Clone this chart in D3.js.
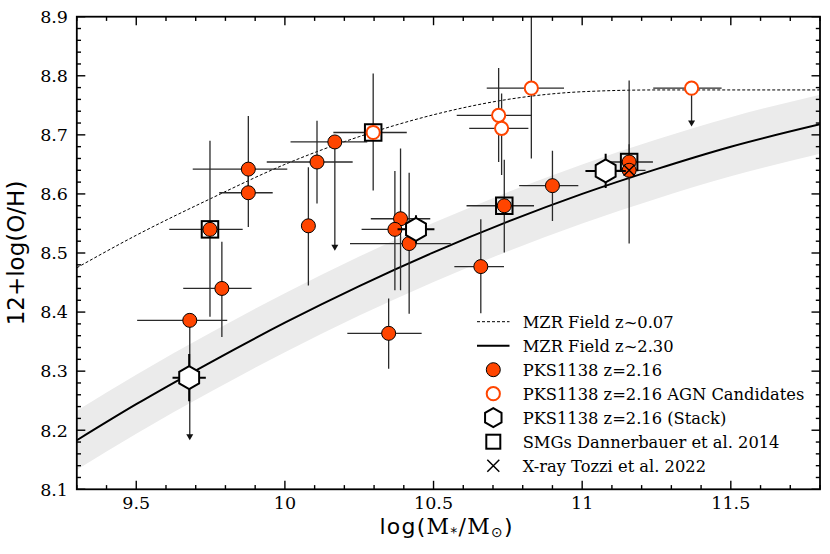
<!DOCTYPE html>
<html><head><meta charset="utf-8">
<script src="https://cdn.jsdelivr.net/npm/d3@7"></script>
<style>body{margin:0;background:#fff}svg{display:block}</style>
</head><body>
<svg id="chart" width="830" height="554"></svg>
<script>
// ---- data ----
const curveX    = [9.3, 9.5, 9.75, 10.0, 10.25, 10.5, 10.75, 11.0, 11.25, 11.5, 11.8];
const mzrLowZ   = [8.475, 8.530, 8.592, 8.650, 8.697, 8.734, 8.760, 8.773, 8.776, 8.776, 8.776];
const mzrHighZ  = [8.183, 8.244, 8.315, 8.382, 8.444, 8.501, 8.553, 8.600, 8.642, 8.680, 8.718];
const bandUpper = [8.233, 8.294, 8.365, 8.432, 8.494, 8.551, 8.603, 8.650, 8.692, 8.730, 8.768];
const bandLower = [8.133, 8.194, 8.265, 8.332, 8.394, 8.451, 8.503, 8.550, 8.592, 8.630, 8.668];

const pksX   = [9.680, 9.877, 9.877, 9.748, 9.788, 10.079, 10.108, 10.168, 10.389, 10.370, 10.418, 10.738, 10.659, 10.349, 10.900, 11.158, 11.158];
const pksY   = [8.386, 8.642, 8.602, 8.540, 8.440, 8.546, 8.654, 8.688, 8.558, 8.540, 8.516, 8.580, 8.477, 8.364, 8.614, 8.654, 8.640];
const pksXLo = [0.177, 0.187, 0.098, 0.137, 0.130, 0, 0.169, 0.149, 0.100, 0.112, 0.199, 0.127, 0.089, 0.139, 0.112, 0.080, 0.055];
const pksXHi = [0.126, 0.131, 0.082, 0.110, 0.100, 0, 0.120, 0.109, 0.100, 0.112, 0.140, 0.100, 0.078, 0.111, 0.087, 0.080, 0.055];
const pksYLo = [0.203, 0.040, 0.058, 0.148, 0.082, 0.101, 0.070, 0.184, 0.121, 0.103, 0.119, 0.079, 0.079, 0.060, 0.060, 0.030, 0.124];
const pksYHi = [0, 0.090, 0.040, 0.150, 0.079, 0.099, 0.070, 0, 0.119, 0.099, 0.120, 0.078, 0.080, 0.059, 0.059, 0.030, 0.152];
const pksLim = [1, 0, 0, 0, 0, 0, 0, 1, 0, 0, 0, 0, 0, 0, 0, 0, 0];

const agnX   = [10.297, 10.829, 10.719, 10.729, 11.368];
const agnY   = [8.704, 8.779, 8.733, 8.711, 8.779];
const agnXLo = [0.134, 0.150, 0.141, 0.109, 0.129];
const agnXHi = [0.113, 0.110, 0.111, 0.090, 0.101];
const agnYLo = [0.098, 0.119, 0.079, 0.079, 0.065];
const agnYHi = [0.100, 0.170, 0.080, 0.059, 0];
const agnLim = [0, 0, 0, 0, 1];

const stackX    = [9.678, 10.441, 11.079];
const stackY    = [8.289, 8.540, 8.639];
const stackXErr = [0.056, 0.062, 0.068];
const stackYErr = [0.040, 0.024, 0.029];

const smgX = [9.748, 10.297, 10.738, 11.158];
const smgY = [8.540, 8.704, 8.580, 8.654];

const xrayX = [11.158];
const xrayY = [8.640];

const xMajorTicks = [9.5, 10, 10.5, 11, 11.5];
const xTickLabels = ["9.5", "10", "10.5", "11", "11.5"];
const yMajorTicks = [8.1, 8.2, 8.3, 8.4, 8.5, 8.6, 8.7, 8.8, 8.9];
const yTickLabels = ["8.1", "8.2", "8.3", "8.4", "8.5", "8.6", "8.7", "8.8", "8.9"];

const legendLabels = ["MZR Field z~0.07", "MZR Field z~2.30", "PKS1138 z=2.16",
  "PKS1138 z=2.16 AGN Candidates", "PKS1138 z=2.16 (Stack)",
  "SMGs Dannerbauer et al. 2014", "X-ray Tozzi et al. 2022"];

// ---- layout ----
const L = 76.8, R = 820, T = 16.7, B = 489.3;
const ORANGE = "#ff4500";
const svg = d3.select("#chart");
const x = d3.scaleLinear().domain([9.3, 11.8]).range([L, R]);
const y = d3.scaleLinear().domain([8.1, 8.9]).range([B, T]);

svg.append("defs").append("clipPath").attr("id", "clip")
  .append("rect").attr("x", L).attr("y", T).attr("width", R - L).attr("height", B - T);
const plot = svg.append("g").attr("clip-path", "url(#clip)");

// band
const band = curveX.map((v, i) => ({x: v, lo: bandLower[i], hi: bandUpper[i]}));
plot.append("path").datum(band)
  .attr("d", d3.area().x(d => x(d.x)).y0(d => y(d.lo)).y1(d => y(d.hi)).curve(d3.curveMonotoneX))
  .attr("fill", "#ebebeb");

const line = d3.line().x(d => x(d[0])).y(d => y(d[1])).curve(d3.curveMonotoneX);
plot.append("path").datum(curveX.map((v, i) => [v, mzrLowZ[i]]))
  .attr("d", line).attr("fill", "none").attr("stroke", "#000").attr("stroke-width", 1).attr("stroke-dasharray", "3,2");
plot.append("path").datum(curveX.map((v, i) => [v, mzrHighZ[i]]))
  .attr("d", line).attr("fill", "none").attr("stroke", "#000").attr("stroke-width", 2);

// error bars
function errorBars(g, xs, ys, xlo, xhi, ylo, yhi, lim, color, width) {
  xs.forEach((xv, i) => {
    const cx = x(xv), cy = y(ys[i]);
    if (xlo[i] + xhi[i] > 0)
      g.append("line").attr("x1", x(xv - xlo[i])).attr("x2", x(xv + xhi[i])).attr("y1", cy).attr("y2", cy)
        .attr("stroke", color).attr("stroke-width", width);
    if (lim && lim[i]) {
      const yb = y(ys[i] - ylo[i]);
      g.append("line").attr("x1", cx).attr("x2", cx).attr("y1", cy).attr("y2", yb - 4)
        .attr("stroke", color).attr("stroke-width", width);
      g.append("path").attr("d", `M${cx - 3.5},${yb - 6}L${cx + 3.5},${yb - 6}L${cx},${yb}Z`).attr("fill", "#111");
    } else {
      g.append("line").attr("x1", cx).attr("x2", cx).attr("y1", y(ys[i] + yhi[i])).attr("y2", y(ys[i] - ylo[i]))
        .attr("stroke", color).attr("stroke-width", width);
    }
  });
}
const eb = plot.append("g");
errorBars(eb, pksX, pksY, pksXLo, pksXHi, pksYLo, pksYHi, pksLim, "#2a2a2a", 1.3);
errorBars(eb, agnX, agnY, agnXLo, agnXHi, agnYLo, agnYHi, agnLim, "#2a2a2a", 1.3);

// squares
const SQ = 16.5;
plot.append("g").selectAll("rect").data(smgX).join("rect")
  .attr("x", (d) => x(d) - SQ / 2).attr("y", (d, i) => y(smgY[i]) - SQ / 2)
  .attr("width", SQ).attr("height", SQ).attr("fill", "none").attr("stroke", "#000").attr("stroke-width", 2);

// filled circles
plot.append("g").selectAll("circle").data(pksX).join("circle")
  .attr("cx", d => x(d)).attr("cy", (d, i) => y(pksY[i])).attr("r", 7)
  .attr("fill", ORANGE).attr("stroke", "#000").attr("stroke-width", 1);
// AGN open circles
plot.append("g").selectAll("circle").data(agnX).join("circle")
  .attr("cx", d => x(d)).attr("cy", (d, i) => y(agnY[i])).attr("r", 6.6)
  .attr("fill", "#fff").attr("stroke", ORANGE).attr("stroke-width", 2);

// stacks
const hexPath = (cx, cy, r) => d3.range(6).map(k => {
  const a = Math.PI / 2 + k * Math.PI / 3;
  return [cx + r * Math.cos(a), cy - r * Math.sin(a)];
});
const sg = plot.append("g");
stackX.forEach((xv, i) => {
  const cx = x(xv), cy = y(stackY[i]);
  sg.append("line").attr("x1", x(xv - stackXErr[i])).attr("x2", x(xv + stackXErr[i])).attr("y1", cy).attr("y2", cy)
    .attr("stroke", "#000").attr("stroke-width", 2);
  sg.append("line").attr("x1", cx).attr("x2", cx).attr("y1", y(stackY[i] + stackYErr[i])).attr("y2", y(stackY[i] - stackYErr[i]))
    .attr("stroke", "#000").attr("stroke-width", 2);
  sg.append("polygon").attr("points", hexPath(cx, cy, 11.5).join(" "))
    .attr("fill", "#fff").attr("stroke", "#000").attr("stroke-width", 2);
});

// x-ray crosses
plot.append("g").selectAll("path").data(xrayX).join("path")
  .attr("d", (d, i) => { const cx = x(d), cy = y(xrayY[i]), s = 5.5;
    return `M${cx - s},${cy - s}L${cx + s},${cy + s}M${cx - s},${cy + s}L${cx + s},${cy - s}`; })
  .attr("stroke", "#000").attr("stroke-width", 1.3).attr("fill", "none");

// ---- axes ----
const range = (a, b, s) => d3.range(Math.round((b - a) / s) + 1).map(k => +(a + k * s).toFixed(3));
const xMinor = range(9.3, 11.8, 0.1).filter(v => !xMajorTicks.some(m => Math.abs(m - v) < 1e-6));
const yMinor = range(8.1, 8.9, 0.02).filter(v => !yMajorTicks.some(m => Math.abs(m - v) < 1e-6));
const ax = svg.append("g").attr("stroke", "#000").attr("stroke-width", 1.4);
function ticksX(vals, len) {
  vals.forEach(v => {
    ax.append("line").attr("x1", x(v)).attr("x2", x(v)).attr("y1", B).attr("y2", B - len);
    ax.append("line").attr("x1", x(v)).attr("x2", x(v)).attr("y1", T).attr("y2", T + len);
  });
}
function ticksY(vals, len) {
  vals.forEach(v => {
    ax.append("line").attr("y1", y(v)).attr("y2", y(v)).attr("x1", L).attr("x2", L + len);
    ax.append("line").attr("y1", y(v)).attr("y2", y(v)).attr("x1", R).attr("x2", R - len);
  });
}
ticksX(xMajorTicks, 8.5); ticksX(xMinor, 4.2);
ticksY(yMajorTicks, 8.5); ticksY(yMinor, 4.2);
svg.append("rect").attr("x", L).attr("y", T).attr("width", R - L).attr("height", B - T)
  .attr("fill", "none").attr("stroke", "#000").attr("stroke-width", 1.8);

svg.append("g").selectAll("text").data(xMajorTicks).join("text")
  .attr("x", d => x(d)).attr("y", 509).attr("text-anchor", "middle")
  .attr("font-family", "DejaVu Serif").attr("font-size", 17.5).attr("fill", "#000")
  .text((d, i) => xTickLabels[i]);
svg.append("g").selectAll("text").data(yMajorTicks).join("text")
  .attr("x", 68).attr("y", d => y(d)).attr("dy", "0.36em").attr("text-anchor", "end")
  .attr("font-family", "DejaVu Serif").attr("font-size", 17.5).attr("fill", "#000")
  .text((d, i) => yTickLabels[i]);

// axis titles
const xt = svg.append("text").attr("x", 446).attr("y", 534).attr("text-anchor", "middle")
  .attr("font-family", "DejaVu Sans").attr("font-size", 22).attr("fill", "#000")
  .attr("textLength", 133).attr("lengthAdjust", "spacing");
xt.append("tspan").text("log(");
xt.append("tspan").attr("font-family", "DejaVu Serif").text("M");
xt.append("tspan").attr("font-size", 14).attr("dy", 3).text("*");
xt.append("tspan").attr("font-family", "DejaVu Serif").attr("dy", -3).text("/M");
xt.append("tspan").attr("font-size", 14).attr("dy", 3).text("⊙");
xt.append("tspan").attr("dy", -3).text(")");

svg.append("text").attr("transform", "translate(24,253) rotate(-90)").attr("text-anchor", "middle")
  .attr("font-family", "DejaVu Sans").attr("font-size", 23).attr("fill", "#000").text("12+log(O/H)");

// ---- legend ----
const lg = svg.append("g");
const ly = i => 321.7 + 24 * i, lx = 493.3;
lg.append("line").attr("x1", 477).attr("x2", 509.5).attr("y1", ly(0)).attr("y2", ly(0))
  .attr("stroke", "#000").attr("stroke-width", 1).attr("stroke-dasharray", "3,2");
lg.append("line").attr("x1", 477).attr("x2", 509.5).attr("y1", ly(1)).attr("y2", ly(1))
  .attr("stroke", "#000").attr("stroke-width", 2);
lg.append("circle").attr("cx", lx).attr("cy", ly(2)).attr("r", 7).attr("fill", ORANGE).attr("stroke", "#000");
lg.append("circle").attr("cx", lx).attr("cy", ly(3)).attr("r", 6.6).attr("fill", "#fff").attr("stroke", ORANGE).attr("stroke-width", 2);
lg.append("polygon").attr("points", hexPath(lx, ly(4), 9.5).join(" ")).attr("fill", "#fff").attr("stroke", "#000").attr("stroke-width", 2);
lg.append("rect").attr("x", lx - 7).attr("y", ly(5) - 7).attr("width", 14).attr("height", 14)
  .attr("fill", "none").attr("stroke", "#000").attr("stroke-width", 2);
lg.append("path").attr("d", `M${lx - 6},${ly(6) - 6}L${lx + 6},${ly(6) + 6}M${lx - 6},${ly(6) + 6}L${lx + 6},${ly(6) - 6}`)
  .attr("stroke", "#000").attr("stroke-width", 1.5);
lg.selectAll("text").data(legendLabels).join("text")
  .attr("x", 522.7).attr("y", (d, i) => ly(i)).attr("dy", "0.36em")
  .attr("font-family", "DejaVu Serif").attr("font-size", 16.3).attr("fill", "#000").text(d => d);
</script>
</body></html>
